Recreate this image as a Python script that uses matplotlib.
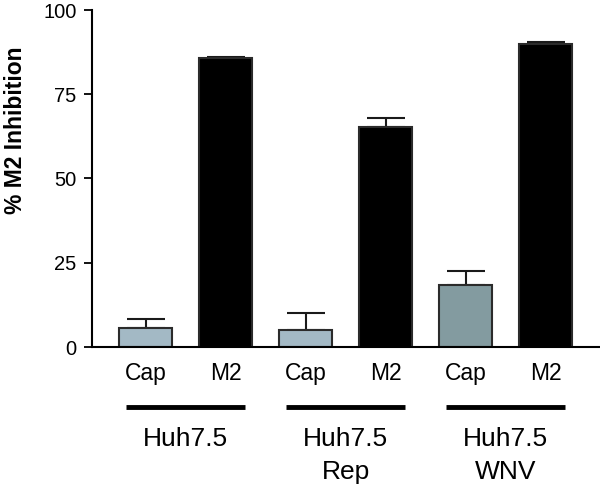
import matplotlib
matplotlib.use("Agg")
import matplotlib.pyplot as plt
from matplotlib.lines import Line2D

plt.rcParams['font.family'] = ['Liberation Sans', 'DejaVu Sans']

# data
bar_labels = ['Cap', 'M2', 'Cap', 'M2', 'Cap', 'M2']
values = [5.7, 85.7, 4.9, 65.3, 18.3, 90.0]
errors = [2.6, 0.5, 5.2, 2.7, 4.2, 0.5]
colors = ['#a3b9c5', '#000000', '#a3b9c5', '#000000', '#839ba0', '#000000']
groups = [['Huh7.5'], ['Huh7.5', 'Rep'], ['Huh7.5', 'WNV']]

W, H = 600, 486
fig = plt.figure(figsize=(6, 4.86), dpi=100)
ax = fig.add_axes([92 / W, 1 - 347 / H, 508 / W, 337 / H])

x = list(range(len(values)))
ax.bar(x, values, width=0.6625, color=colors, edgecolor='#2b2b2b', linewidth=1.5, zorder=2)
ax.errorbar(x, values, yerr=[[0] * len(errors), errors], fmt='none', ecolor='#1a1a1a',
            elinewidth=1.5, capsize=14, capthick=1.5, zorder=1)

ax.set_xlim(-0.669, 5.681)
ax.set_ylim(0, 100)
ax.set_yticks([0, 25, 50, 75, 100])
ax.tick_params(axis='y', labelsize=14.5, length=6, width=1.3, pad=5)
ax.set_xticks(x)
ax.set_xticklabels(bar_labels, fontsize=16.5)
ax.tick_params(axis='x', length=0, pad=11)
for s in ['top', 'right']:
    ax.spines[s].set_visible(False)
for s in ['left', 'bottom']:
    ax.spines[s].set_linewidth(1.5)

# group underlines and labels
def fy(py):
    return 1 - py / H

for i, lines in enumerate(groups):
    c = 2 * i + 0.5
    ln = Line2D([c - 0.74, c + 0.74], [-0.178, -0.178], transform=ax.get_xaxis_transform(),
                color='black', linewidth=3.5, clip_on=False, solid_capstyle='butt')
    ax.add_line(ln)
    xf = (145.5 + 80 * c) / W
    for j, t in enumerate(lines):
        fig.text(xf, fy(446 + 33 * j), t, fontsize=19, ha='center', va='baseline')

fig.text(16 / W, fy(130), '% M2 Inhibition', rotation=90, fontsize=16.5,
         fontweight='bold', ha='center', va='center')

fig.savefig('out.png', dpi=100)
